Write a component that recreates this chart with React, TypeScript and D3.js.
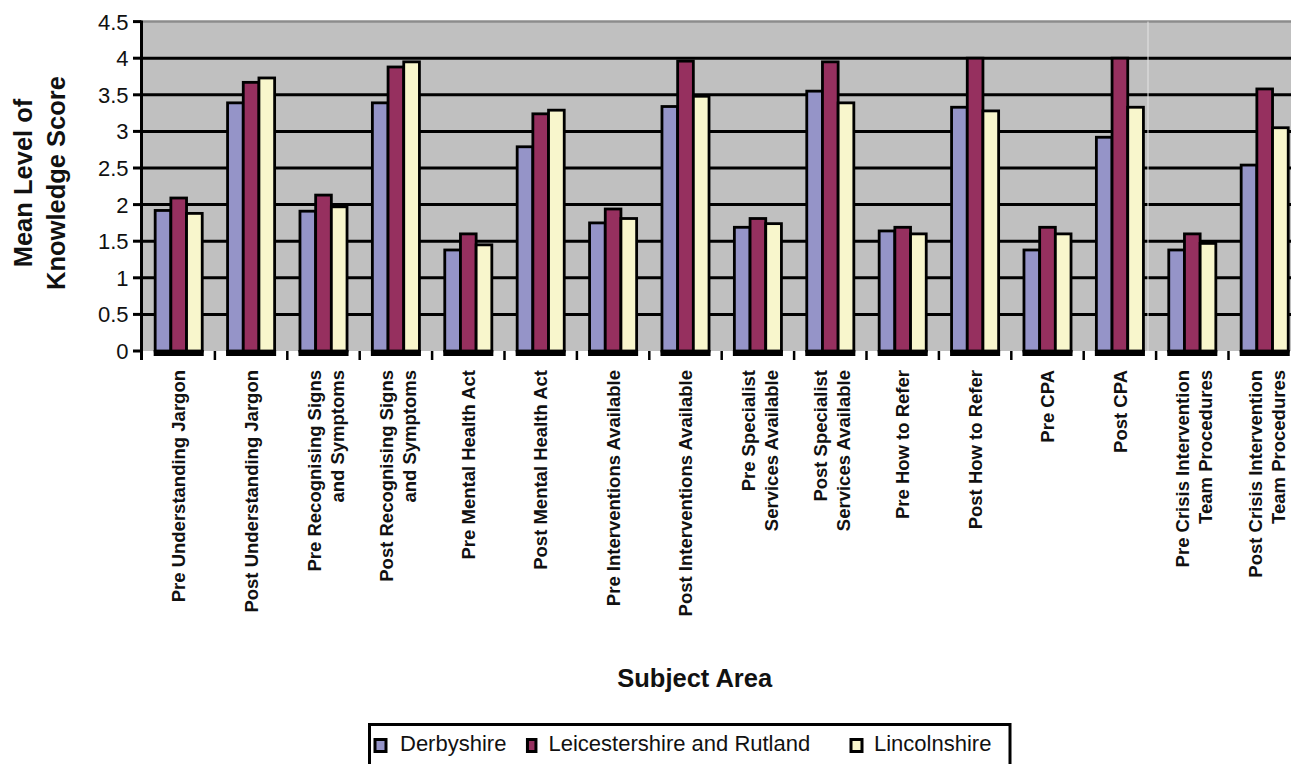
import React from "react";
import * as d3 from "d3";

// Subject areas (pre/post training), drawn as rotated axis labels
const categoryLabels: string[][] = [
  ["Pre Understanding Jargon"],
  ["Post Understanding Jargon"],
  ["Pre Recognising Signs", "and Symptoms"],
  ["Post Recognising Signs", "and Symptoms"],
  ["Pre Mental Health Act"],
  ["Post Mental Health Act"],
  ["Pre Interventions Available"],
  ["Post Interventions Available"],
  ["Pre Specialist", "Services Available"],
  ["Post Specialist", "Services Available"],
  ["Pre How to Refer"],
  ["Post How to Refer"],
  ["Pre CPA"],
  ["Post CPA"],
  ["Pre Crisis Intervention", "Team Procedures"],
  ["Post Crisis Intervention", "Team Procedures"],
];
const categories = categoryLabels.map((l) => l.join(" "));

const seriesNames = ["Derbyshire", "Leicestershire and Rutland", "Lincolnshire"];
const seriesColors = ["#9594C8", "#96305F", "#F8F6CC"];

const derbyshire = [1.92, 3.39, 1.91, 3.39, 1.38, 2.79, 1.75, 3.34, 1.69, 3.55, 1.64, 3.33, 1.38, 2.92, 1.38, 2.54];
const leicestershire = [2.09, 3.67, 2.13, 3.88, 1.6, 3.24, 1.94, 3.96, 1.81, 3.95, 1.69, 4.0, 1.69, 4.0, 1.6, 3.58];
const lincolnshire = [1.88, 3.73, 1.97, 3.95, 1.45, 3.29, 1.81, 3.48, 1.74, 3.39, 1.6, 3.28, 1.6, 3.33, 1.47, 3.05];
const seriesValues = [derbyshire, leicestershire, lincolnshire];

const yTicks = [0, 0.5, 1, 1.5, 2, 2.5, 3, 3.5, 4, 4.5];
const yTickLabels = ["0", "0.5", "1", "1.5", "2", "2.5", "3", "3.5", "4", "4.5"];

const W = 1291;
const H = 764;
const FONT = "'Liberation Sans', Arial, Helvetica, sans-serif";

export default function App() {
  const plotLeft = 142.5;
  const step = 72.4;
  const plotRight = plotLeft + step * categories.length;
  const y = d3.scaleLinear().domain([0, 4.5]).range([351, 21.6]);
  const y0 = y(0);
  const x0 = d3
    .scaleBand<string>()
    .domain(categories)
    .range([plotLeft, plotRight])
    .paddingInner(0.35)
    .paddingOuter(0.175);
  const x1 = d3
    .scaleBand<string>()
    .domain(seriesNames)
    .range([0, x0.bandwidth()]);

  const legendItems = [
    { marker: 380.5, mw: 11, text: 400 },
    { marker: 531.7, mw: 8.5, text: 548.5 },
    { marker: 856.5, mw: 11, text: 874 },
  ];

  return (
    <svg
      width={W}
      height={H}
      viewBox={`0 0 ${W} ${H}`}
      style={{ position: "absolute", left: 0, top: 0, background: "#fff" }}
      fontFamily={FONT}
    >
      {/* plot background */}
      <rect x={plotLeft} y={y(4.5)} width={plotRight - plotLeft} height={y0 - y(4.5)} fill="#C0C0C0" />
      <line x1={plotLeft} x2={plotRight} y1={y(4.5)} y2={y(4.5)} stroke="#8c8c8c" strokeWidth={2.5} />

      {/* horizontal gridlines */}
      {yTicks
        .filter((t) => t > 0 && t < 4.5)
        .map((t) => (
          <line key={t} x1={plotLeft} x2={plotRight} y1={y(t)} y2={y(t)} stroke="#000" strokeWidth={3} />
        ))}

      {/* faint panel seam */}
      <line x1={1148} x2={1148} y1={y(4.5)} y2={y0} stroke="#e4e4e4" strokeWidth={1} />

      {/* bars */}
      {categories.map((c, ci) => {
        const gx = x0(c)!;
        return (
          <g key={c}>
            <rect x={gx - 1.5} y={y0 - 1} width={x0.bandwidth() + 3} height={6} fill="#000" />
            {seriesNames.map((s, si) => {
              const v = seriesValues[si][ci];
              return (
                <rect
                  key={s}
                  x={gx + x1(s)!}
                  y={y(v)}
                  width={x1.bandwidth()}
                  height={y0 - y(v)}
                  fill={seriesColors[si]}
                  stroke="#000"
                  strokeWidth={2.8}
                />
              );
            })}
          </g>
        );
      })}

      {/* y axis */}
      <line x1={141.5} x2={141.5} y1={y(4.5) - 1} y2={360} stroke="#000" strokeWidth={3} />
      {yTicks.map((t, i) => (
        <g key={t}>
          <line x1={133} x2={141.5} y1={y(t)} y2={y(t)} stroke="#000" strokeWidth={3} />
          <text x={128.5} y={y(t)} dy="0.36em" textAnchor="end" fontSize={22} fill="#111">
            {yTickLabels[i]}
          </text>
        </g>
      ))}

      {/* x axis ticks at category boundaries */}
      {categories.map((c, i) => {
        const bx = plotLeft + step * (i + 1);
        return <line key={c} x1={bx} x2={bx} y1={y0} y2={360} stroke="#000" strokeWidth={2.5} />;
      })}

      {/* category labels */}
      {categories.map((c, ci) => {
        const cx = x0(c)! + x0.bandwidth() / 2;
        const lines = categoryLabels[ci];
        const offsets = lines.length === 1 ? [6.7] : [-3, 20];
        return (
          <g key={c} transform={`translate(${cx},370) rotate(-90)`}>
            {lines.map((ln, li) => (
              <text key={li} x={0} y={offsets[li]} textAnchor="end" fontSize={18.5} fontWeight="bold" fill="#111">
                {ln}
              </text>
            ))}
          </g>
        );
      })}

      {/* axis titles */}
      <g transform="translate(0,183) rotate(-90)">
        <text x={0} y={31.5} textAnchor="middle" fontSize={25.5} fontWeight="bold" fill="#111">
          Mean Level of
        </text>
        <text x={0} y={65} textAnchor="middle" fontSize={25.5} fontWeight="bold" fill="#111">
          Knowledge Score
        </text>
      </g>
      <text x={694.7} y={686.5} textAnchor="middle" fontSize={25.5} fontWeight="bold" fill="#111">
        Subject Area
      </text>

      {/* legend */}
      <rect x={369.5} y={724.5} width={640.5} height={50} fill="#fff" stroke="#000" strokeWidth={3} />
      {seriesNames.map((s, i) => {
        const it = legendItems[i];
        return (
          <g key={s}>
            <rect
              x={it.marker - it.mw / 2}
              y={739.5}
              width={it.mw}
              height={12}
              fill={seriesColors[i]}
              stroke="#000"
              strokeWidth={3}
            />
            <text x={it.text} y={751} fontSize={22} fill="#111">
              {s}
            </text>
          </g>
        );
      })}
    </svg>
  );
}
